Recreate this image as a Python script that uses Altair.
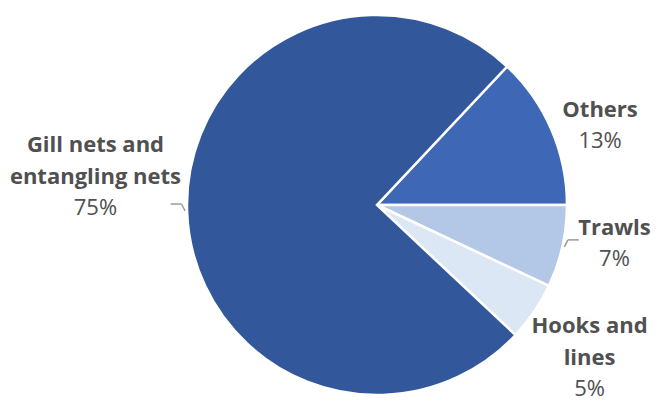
import math
import altair as alt
import pandas as pd

# ---- data ----
categories = ["Others", "Trawls", "Hooks and lines", "Gill nets and entangling nets"]
label_names = ["\nOthers", "\nTrawls", "Hooks and\nlines", "Gill nets and\nentangling nets"]
values = [13, 7, 5, 75]
percent_labels = ["13%", "7%", "5%", "75%"]
slice_order = [1, 2, 3, 4]
has_leader = [0, 1, 0, 1]

# ---- styling / layout (not data) ----
colors = ["#3e68b5", "#b3c7e6", "#dce7f5", "#32579a"]
label_nudge_deg = [3.0, -4.2, 3.6, 5.1]
label_radius = [238, 240, 269, 282]
START = math.radians(90 - 13 / 100 * 360)  # Others/Trawls border is horizontal
CX, CY, R = 369, 197, 190

df = pd.DataFrame({
    "category": categories,
    "name": label_names,
    "value": values,
    "pct": percent_labels,
    "order": slice_order,
    "nudge": label_nudge_deg,
    "lr": label_radius,
    "leader": has_leader,
})

base = alt.Chart(df)

pie = base.mark_arc(radius=R, stroke="white", strokeWidth=2.5).encode(
    theta=alt.Theta("value:Q", stack=True,
                    scale=alt.Scale(range=[START, START + 2 * math.pi])),
    order=alt.Order("order:Q"),
    color=alt.Color("category:N", scale=alt.Scale(domain=categories, range=colors), legend=None),
    x=alt.value(CX),
    y=alt.value(CY),
)

lab = base.transform_window(
    cum="sum(value)", sort=[alt.SortField("order")], frame=[None, 0]
).transform_joinaggregate(
    total="sum(value)"
).transform_calculate(
    mid=f"{START} + (datum.cum - datum.value / 2) / datum.total * 2 * PI"
).transform_calculate(
    lt="datum.mid + datum.nudge * PI / 180",
    dir="sin(datum.mid) >= 0 ? 1 : -1",
    px=f"{CX} + {R + 2} * sin(datum.mid)",
    py=f"{CY} - {R + 2} * cos(datum.mid)",
).transform_calculate(
    ex="datum.px + datum.dir * 3.5",
    ey="datum.py - 7",
).transform_calculate(
    hx="datum.ex + datum.dir * 11",
)

names = lab.mark_text(
    font="Open Sans", fontSize=22, fontWeight="bold", color="#505050",
    align="center", baseline="bottom", lineBreak="\n", lineHeight=32, dy=-32,
).encode(
    theta=alt.Theta("lt:Q", scale=None, stack=False),
    radius=alt.Radius("lr:Q", scale=None),
    text="name:N",
    x=alt.value(CX),
    y=alt.value(CY),
)

pcts = lab.mark_text(
    font="Open Sans", fontSize=22, color="#505050",
    align="center", baseline="top", dy=9,
).encode(
    theta=alt.Theta("lt:Q", scale=None, stack=False),
    radius=alt.Radius("lr:Q", scale=None),
    text="pct:N",
    x=alt.value(CX),
    y=alt.value(CY),
)

leaders = lab.transform_filter("datum.leader == 1")
lead1 = leaders.mark_rule(color="#9a9a9a", strokeWidth=1.5).encode(
    x=alt.X("px:Q", scale=None), y=alt.Y("py:Q", scale=None),
    x2="ex:Q", y2="ey:Q",
)
lead2 = leaders.mark_rule(color="#9a9a9a", strokeWidth=1.5).encode(
    x=alt.X("ex:Q", scale=None), y=alt.Y("ey:Q", scale=None),
    x2="hx:Q", y2="ey:Q",
)

chart = alt.layer(pie, lead1, lead2, names, pcts).resolve_scale(
    theta="independent", radius="independent"
).properties(
    width=643, height=389, padding=0,
    autosize=alt.AutoSizeParams(type="none"),
).configure_view(stroke=None)

chart.save("out.html", embed_options={"renderer": "svg", "actions": False})
